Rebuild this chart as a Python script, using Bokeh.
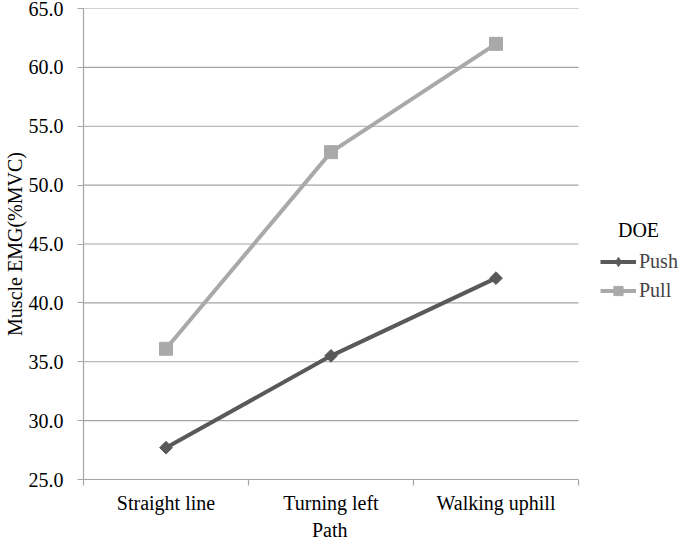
from math import pi
from bokeh.plotting import figure
from bokeh.models import (FixedTicker, Label, Legend, LegendItem, Range1d, Title,
                          NumeralTickFormatter, ColumnDataSource)
from bokeh.embed import file_html
from bokeh.resources import INLINE

categories = ["Straight line", "Turning left", "Walking uphill"]
push = [27.7, 35.5, 42.1]
pull = [36.1, 52.8, 62.0]
y_ticks = [25, 30, 35, 40, 45, 50, 55, 60, 65]
x_title = "Path"
y_title = "Muscle EMG(%MVC)"
legend_title = "DOE"

FONT = "Liberation Serif"
FS = "20px"
PUSH_C = "#595959"
PULL_C = "#a9a9a9"
GRID_C = "#a6a6a6"

W, H = 682, 540
LEFT, TOP, BOTTOM = 83, 8, 61
PLOT_W = 495  # width of the category area; the frame extends to the right edge for the legend
n = len(categories)
x_end = n * (W - LEFT) / PLOT_W

xpos = [i + 0.5 for i in range(n)]
src = ColumnDataSource(dict(x=xpos, push=push, pull=pull))
grid_src = ColumnDataSource(dict(y=y_ticks[1:], x0=[0] * (len(y_ticks) - 1),
                                 x1=[n] * (len(y_ticks) - 1)))

p = figure(width=W, height=H, output_backend="svg", toolbar_location=None,
           x_range=Range1d(0, x_end), y_range=Range1d(y_ticks[0], y_ticks[-1]),
           min_border_left=LEFT, min_border_right=0, min_border_top=TOP, min_border_bottom=BOTTOM)
p.outline_line_color = None
p.xgrid.visible = False
p.ygrid.visible = False

p.segment(x0="x0", x1="x1", y0="y", y1="y", source=grid_src,
          line_color=GRID_C, line_width=1.2)

yax = p.yaxis[0]
yax.ticker = FixedTicker(ticks=y_ticks, minor_ticks=[])
yax.formatter = NumeralTickFormatter(format="0.0")
yax.axis_line_color = GRID_C
yax.axis_line_width = 1.2
yax.major_tick_line_color = GRID_C
yax.major_tick_line_width = 1.2
yax.major_tick_out = 6
yax.major_tick_in = 0
yax.major_label_standoff = 14
yax.major_label_text_font = FONT
yax.major_label_text_font_size = FS
yax.major_label_text_color = "black"
yax.axis_label = y_title
yax.axis_label_standoff = 0
yax.axis_label_text_font = FONT
yax.axis_label_text_font_size = FS
yax.axis_label_text_font_style = "normal"
yax.axis_label_text_color = "black"

xax = p.xaxis[0]
xax.bounds = (0, n)
xax.ticker = FixedTicker(ticks=xpos, minor_ticks=[float(i) for i in range(n + 1)])
xax.major_label_overrides = {x: c for x, c in zip(xpos, categories)}
xax.axis_line_color = GRID_C
xax.axis_line_width = 1.2
xax.major_tick_line_color = None
xax.major_tick_out = 0
xax.major_tick_in = 0
xax.minor_tick_line_color = GRID_C
xax.minor_tick_line_width = 1.2
xax.minor_tick_out = 6
xax.minor_tick_in = 0
xax.major_label_standoff = 6
xax.major_label_text_font = FONT
xax.major_label_text_font_size = FS
xax.major_label_text_color = "black"

# x axis title, centred under the category area (not the whole frame)
p.add_layout(Title(text=x_title, align="left", offset=PLOT_W / 2 - 19, standoff=0,
                   text_font=FONT, text_font_size=FS, text_font_style="normal",
                   text_color="black"), "below")

l1 = p.line("x", "push", source=src, line_color=PUSH_C, line_width=4)
s1 = p.scatter("x", "push", source=src, marker="square", size=9, angle=pi / 4,
               fill_color=PUSH_C, line_color=PUSH_C)
# zero-size diamond: invisible in the plot, gives the legend its diamond symbol
s1_key = p.scatter("x", "push", source=src, marker="diamond", size=0,
                   fill_color=PUSH_C, line_color=PUSH_C)
l2 = p.line("x", "pull", source=src, line_color=PULL_C, line_width=4)
s2 = p.scatter("x", "pull", source=src, marker="square", size=13,
               fill_color=PULL_C, line_color=PULL_C)

legend = Legend(items=[LegendItem(label="Push", renderers=[l1, s1_key]),
                       LegendItem(label="Pull", renderers=[l2, s2])],
                location=(517, 177), padding=0, margin=0, spacing=6,
                glyph_width=36, glyph_height=23, label_standoff=3,
                label_text_font=FONT, label_text_font_size=FS,
                border_line_color=None, background_fill_alpha=0)
p.add_layout(legend)

p.add_layout(Label(x=555, y=250, x_units="screen", y_units="screen", text=legend_title,
                   text_align="center", text_baseline="middle",
                   text_font=FONT, text_font_size=FS, text_color="black"))

open("out.html", "w").write(file_html(p, INLINE))
